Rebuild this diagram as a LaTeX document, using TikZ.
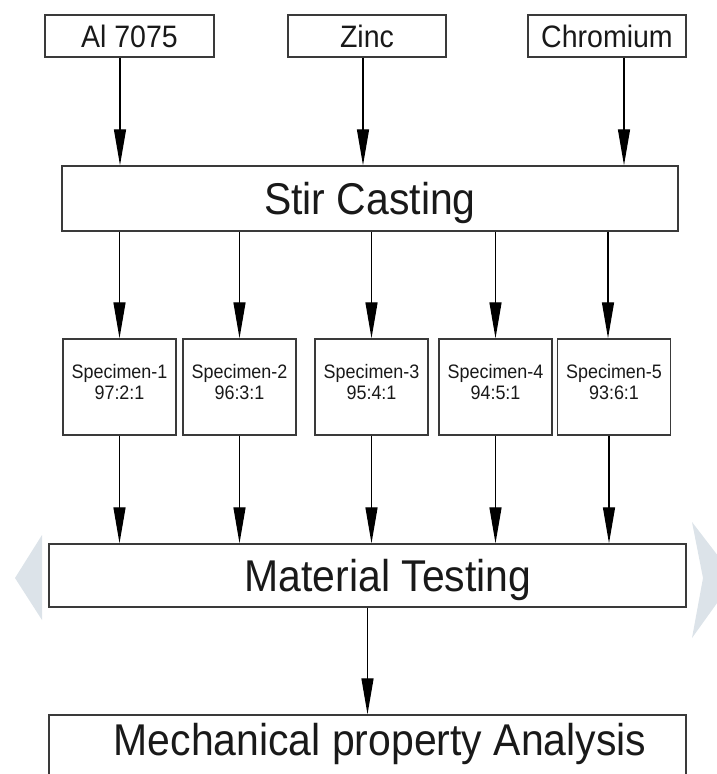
\documentclass[tikz,border=0pt]{standalone}
\usepackage{fontspec}
\setmainfont{Liberation Sans}[FakeStretch=0.92]
\usetikzlibrary{arrows.meta}
\definecolor{edge}{HTML}{3A3A3A}
\definecolor{ghost}{HTML}{DCE3E9}
\begin{document}
\begin{tikzpicture}[x=1pt,y=-1pt,
  box/.style={draw=edge, line width=1.4pt, inner sep=0pt, text=black!90},
  srcbox/.style={box, minimum width=#1, minimum height=42pt,
    font=\fontsize{31}{34}\selectfont, text height=22.2pt, text depth=0pt},
  widebox/.style={box, minimum width=#1, minimum height=64pt,
    font=\fontsize{44.5}{50}\selectfont, text height=31.9pt, text depth=0pt},
  specbox/.style={box, minimum width=113pt, minimum height=96pt,
    font=\fontsize{19.5}{21}\selectfont, text height=24pt, text depth=0pt},
  arr/.style={draw=black, line width=1.3pt, -{Triangle[length=36pt,width=12pt]}}
]
\useasboundingbox (0,0) rectangle (717,774);
\clip (0,0) rectangle (717,774);

% faint side chevrons
\fill[ghost] (42,535) -- (15,578) -- (42,620) -- cycle;
\fill[ghost] (692,522) -- (735,578) -- (692,638) -- (703,578) -- cycle;

% source boxes
\node[srcbox=169pt] (al) at (129.5,36) {Al 7075};
\node[srcbox=158pt] (zinc) at (367,36) {Zinc\hspace{20pt}};
\node[srcbox=158pt] (chrom) at (607,36) {Chromium};

% stir casting
\node[widebox=616pt, minimum height=65pt] (stir) at (370,198.5) {Stir Casting};

% specimens
\node[specbox] (s1) at (119.5,387) {\begin{tabular}[b]{@{}c@{}}Specimen-1\\97:2:1\end{tabular}};
\node[specbox] (s2) at (239.5,387) {\begin{tabular}[b]{@{}c@{}}Specimen-2\\96:3:1\end{tabular}};
\node[specbox] (s3) at (371.5,387) {\begin{tabular}[b]{@{}c@{}}Specimen-3\\95:4:1\end{tabular}};
\node[specbox] (s4) at (495.5,387) {\begin{tabular}[b]{@{}c@{}}Specimen-4\\94:5:1\end{tabular}};
\node[specbox] (s5) at (614,387) {\begin{tabular}[b]{@{}c@{}}Specimen-5\\93:6:1\end{tabular}};

% material testing
\node[widebox=637pt, minimum height=63pt] (mat) at (367.5,575.5) {\hspace{41pt}Material Testing};

% mechanical property analysis (bottom edge runs off the picture)
\node[widebox=637pt, minimum height=70pt, text height=32pt, text depth=22pt] (mech) at (367.5,750) {\hspace{25pt}Mechanical property Analysis};

% connectors: sources -> stir casting
\coordinate (alout) at ([xshift=-9.5pt]al.south);
\coordinate (znout) at ([xshift=-4pt]zinc.south);
\coordinate (crout) at ([xshift=17pt]chrom.south);
\draw[arr] (alout) -- (alout |- stir.north);
\draw[arr] (znout) -- (znout |- stir.north);
\draw[arr] (crout) -- (crout |- stir.north);

% stir casting -> specimens -> material testing
\foreach \s in {s1,s2,s3,s4} {
  \draw[arr] (stir.south -| \s.north) -- (\s.north);
  \draw[arr] (\s.south) -- (mat.north -| \s.south);
}
\coordinate (s5in) at ([xshift=-6pt]s5.north);
\coordinate (s5out) at ([xshift=-5pt]s5.south);
\draw[arr] (stir.south -| s5in) -- (s5in);
\draw[arr] (s5out) -- (mat.north -| s5out);

% material testing -> analysis
\draw[arr] (mat.south) -- (mech.north);
\end{tikzpicture}
\end{document}
